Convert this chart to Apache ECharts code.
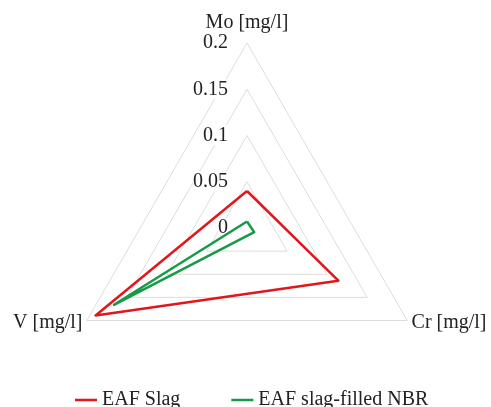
<!DOCTYPE html>
<html><head><meta charset="utf-8">
<script src="https://cdn.jsdelivr.net/npm/echarts@6/dist/echarts.min.js"></script>
<style>html,body{margin:0;padding:0;background:#fff}#c{width:491px;height:407px}</style>
</head><body><div id="c"></div>
<script>
const indicatorNames = ['Mo [mg/l]', 'V [mg/l]', 'Cr [mg/l]'];
const axisMax = 0.2;
const seriesNames = ['EAF Slag', 'EAF slag-filled NBR'];
const eafSlag = [0.04, 0.189, 0.114];
const eafNbr = [0.007, 0.166, 0.009];

const font = 'Liberation Serif';
const chart = echarts.init(document.getElementById('c'));
chart.setOption({
  animation: false,
  legend: {
    top: 385, left: 70,
    icon: 'rect', itemWidth: 22, itemHeight: 2.5, itemGap: 51,
    textStyle: {fontFamily: font, fontSize: 20, color: '#222'},
    data: seriesNames
  },
  radar: {
    center: [247, 228], radius: 185, shape: 'polygon', startAngle: 90,
    splitNumber: 4,
    axisName: {fontFamily: font, fontSize: 20, color: '#222'},
    nameGap: 5,
    axisLine: {show: false},
    axisTick: {show: false},
    splitArea: {show: false},
    splitLine: {lineStyle: {color: '#dcdcdc', width: 1}},
    axisLabel: {show: false},
    indicator: indicatorNames.map((n, i) => ({
      name: n, min: 0, max: axisMax,
      axisLabel: i === 0 ? {show: true, fontFamily: font, fontSize: 20, color: '#222', margin: 19, backgroundColor: '#fff'} : {show: false}
    }))
  },
  series: [{
    type: 'radar', symbol: 'none',
    data: [
      {name: seriesNames[0], value: eafSlag, lineStyle: {color: '#e3161b', width: 2.5}, itemStyle: {color: '#e3161b'}},
      {name: seriesNames[1], value: eafNbr, lineStyle: {color: '#169a45', width: 2.5}, itemStyle: {color: '#169a45'}}
    ]
  }]
});
</script></body></html>
